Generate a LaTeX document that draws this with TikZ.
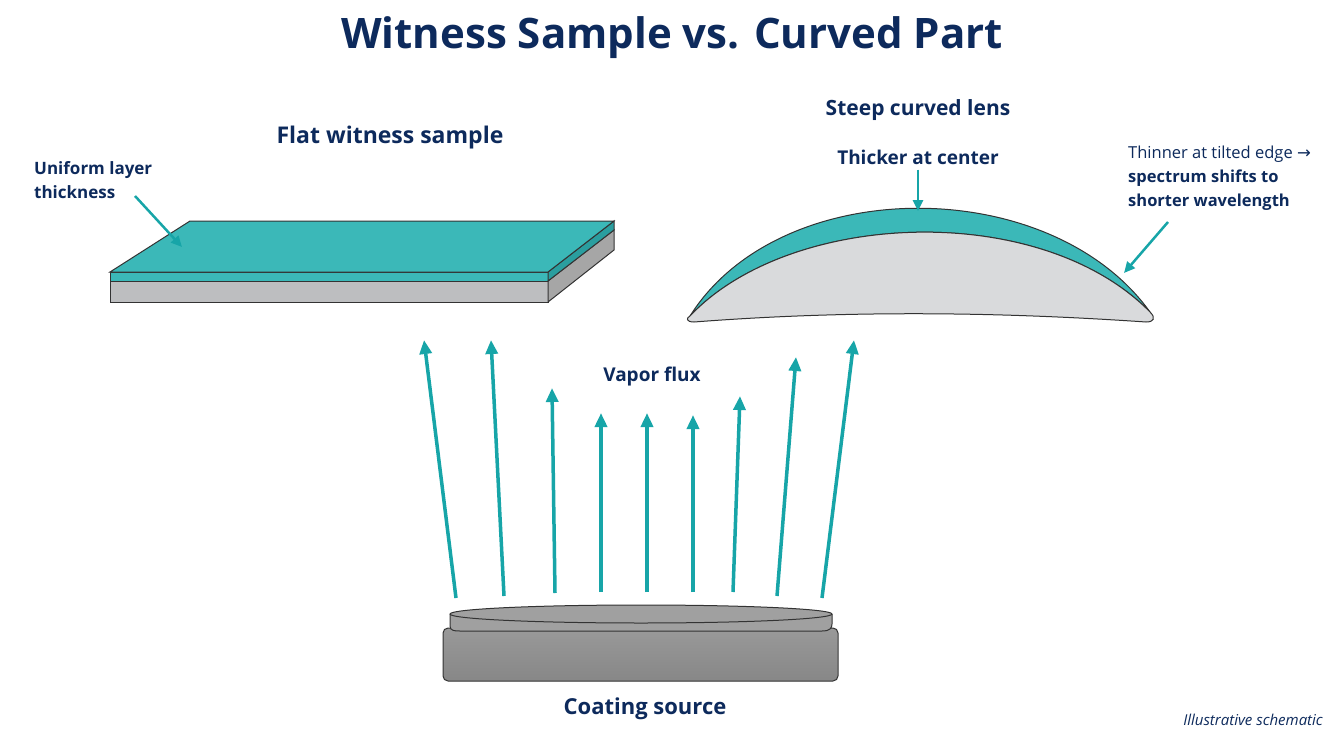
\documentclass[tikz,border=0pt]{standalone}
\usepackage{fontspec}
\setmainfont{Open Sans}
\newfontfamily\symf{DejaVu Sans}
\usetikzlibrary{arrows.meta}
\definecolor{navy}{HTML}{0D2A5C}
\definecolor{teal1}{HTML}{17A5A8}
\definecolor{slab}{HTML}{3BB8B8}
\definecolor{slabdk}{HTML}{2A9E9F}
\definecolor{lgray}{HTML}{D9DADC}
\definecolor{mgray}{HTML}{BDBEC0}
\definecolor{srcg}{HTML}{8E8E8E}
\definecolor{srct}{HTML}{A0A0A0}
\begin{document}
\begin{tikzpicture}[x=1pt,y=-1pt,
 lbl/.style={text=navy,font=\fontsize{19}{23}\selectfont\bfseries,inner sep=0},
 note/.style={text=navy,font=\fontsize{17}{24}\selectfont\bfseries,inner sep=0,align=left},
 flux/.style={draw=teal1,line width=3.5pt,-{Triangle[length=14pt,width=12pt]}},
 ptr/.style={draw=teal1,line width=2.5pt,-{Triangle[length=11pt,width=10pt]}},
 edge/.style={draw=black!80,line width=1pt}]
\useasboundingbox (0,0) rectangle (1344,752);
\fill[white] (0,0) rectangle (1344,752);
\node[text=navy,font=\fontsize{42}{50}\selectfont\bfseries] (title) at (672,38) {Witness Sample vs. Curved Part};
% flat slab
\fill[mgray,edge] (110,281)--(548,281)--(548,302)--(110,302)--cycle;
\fill[slab,edge] (110,272)--(548,272)--(548,281)--(110,281)--cycle;
\fill[gray!70,edge] (548,281)--(614,230)--(614,250)--(548,302)--cycle;
\fill[slabdk,edge] (548,272)--(614,221)--(614,230)--(548,281)--cycle;
\fill[slab,edge] (110,272)--(190,221)--(614,221)--(548,272)--cycle;
\node[lbl,font=\fontsize{23}{28}\selectfont\bfseries] (flat) at (390,138) {Flat witness sample};
\node[note,anchor=west] (unif) at (34,180) {Uniform layer\\thickness};
\coordinate (unifT) at (182,247);
\draw[ptr] (135,196) -- (unifT);
% lens
\fill[slab,edge] (690,316) .. controls (780,173) and (1050,173) .. (1150,312) -- (1150,312) .. controls (1040,200) and (790,210) .. (690,316) -- cycle;
\fill[lgray,edge] (690,316) .. controls (790,210) and (1040,200) .. (1150,312) .. controls (1156,318) and (1154,322) .. (1146,322) .. controls (1000,312) and (850,310) .. (694,322) .. controls (686,322) and (686,318) .. (690,316) -- cycle;
\node[lbl,font=\fontsize{21}{26}\selectfont\bfseries] (lens) at (918,110) {Steep curved lens};
\node[lbl] (thick) at (918,157) {Thicker at center};
\coordinate (thickT) at (918,211);
\draw[ptr] (thick.south) ++(0,5) -- (thickT);
\node[note,anchor=north west,font=\fontsize{16.5}{24}\selectfont\bfseries] (thin) at (1128,146) {\mbox{\fontsize{16.5}{24}\mdseries Thinner at tilted edge {\symf →}}\\spectrum shifts to\\shorter wavelength};
\coordinate (thinT) at (1124,273);
\draw[ptr] (1168,222) -- (thinT);
% flux
\draw[flux] (456,598) -- (424,340);
\draw[flux] (504,596) -- (491,340);
\draw[flux] (555,593) -- (552,388);
\draw[flux] (601,592) -- (601,413);
\draw[flux] (647,592) -- (647,413);
\draw[flux] (693,592) -- (693,415);
\draw[flux] (733,592) -- (740,396);
\draw[flux] (777,596) -- (796,357);
\draw[flux] (822,598) -- (854,340);
\node[lbl] (vapor) at (652,377) {Vapor flux};
% source
\draw[edge,top color=srcg!90!white,bottom color=srcg!95!black,rounded corners=5pt] (443,628) rectangle (838,681);
\draw[edge,fill=srct] (450,614) -- (450,626) .. controls (450,631) and (455,631) .. (460,631) -- (822,631) .. controls (830,631) and (832,628) .. (832,624) -- (832,614);
\draw[edge,fill=srct] (641,614) ellipse (191 and 9);
\node[lbl,font=\fontsize{22}{27}\selectfont\bfseries] (src) at (645,709) {Coating source};
\node[text=navy,font=\fontsize{15}{18}\selectfont\itshape,anchor=east,inner sep=0] (ill) at (1323,720) {Illustrative schematic};
\end{tikzpicture}
\end{document}
